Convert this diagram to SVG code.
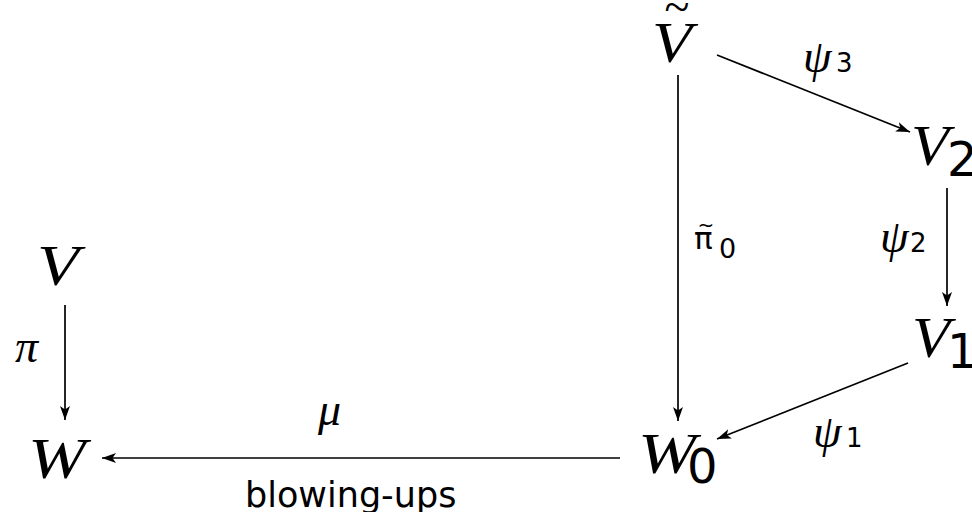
<svg xmlns="http://www.w3.org/2000/svg" width="972" height="512" viewBox="0 0 972 512">
<style>
.m{font-family:"Liberation Serif",serif;font-style:italic;font-size:58px;fill:#000}
.s{font-family:"DejaVu Sans",sans-serif;fill:#000}
.g{font-family:"Liberation Serif",serif;font-style:italic;font-size:46px;fill:#000}
.c{stroke:#000;stroke-width:1.7;fill:none;marker-end:url(#ah)}
</style>
<defs>
<marker id="ah" markerUnits="userSpaceOnUse" markerWidth="15" markerHeight="11" refX="14" refY="5.5" orient="auto">
<path d="M0,0.5 L14,5.5 L0,10.5 L3.5,5.5 Z" fill="#000"/>
</marker>
</defs>
<g id="connectors">
<line class="c" x1="717" y1="55" x2="910" y2="132"/>
<line class="c" x1="678" y1="75" x2="678" y2="421"/>
<line class="c" x1="947" y1="188" x2="947" y2="306"/>
<line class="c" x1="908" y1="363" x2="717" y2="439"/>
<line class="c" x1="65" y1="305" x2="65" y2="420"/>
<line class="c" x1="620" y1="458" x2="102" y2="458"/>
</g>
<g id="Vt"><text class="m" x="652" y="62" textLength="40" lengthAdjust="spacingAndGlyphs">V</text><text x="677" y="22" text-anchor="middle" style="font-family:'Liberation Serif',serif;font-size:46px">~</text></g>
<g id="V2"><text class="m" x="911" y="165" textLength="38" lengthAdjust="spacingAndGlyphs">V</text><text class="s" x="947" y="176" font-size="48">2</text></g>
<g id="V1"><text class="m" x="912" y="357" textLength="38" lengthAdjust="spacingAndGlyphs">V</text><text class="s" x="947" y="368" font-size="48">1</text></g>
<g id="W0"><text class="m" x="638" y="473" textLength="58" lengthAdjust="spacingAndGlyphs">W</text><text class="s" x="687" y="483" font-size="48">0</text></g>
<g id="V"><text class="m" x="37" y="285" textLength="42" lengthAdjust="spacingAndGlyphs">V</text></g>
<g id="W"><text class="m" x="28" y="478" textLength="58" lengthAdjust="spacingAndGlyphs">W</text></g>
<g id="labels">
<text class="g" x="803" y="72">ψ</text><text class="s" x="836" y="72" font-size="26">3</text>
<text class="s" x="694" y="249" font-size="31">π</text><text x="706" y="232" text-anchor="middle" style="font-family:'DejaVu Sans',sans-serif;font-size:20px">~</text><text class="s" x="719" y="258" font-size="27">0</text>
<text class="g" x="880" y="252">ψ</text><text class="s" x="910" y="252" font-size="26">2</text>
<text class="g" x="813" y="447">ψ</text><text class="s" x="846" y="447" font-size="26">1</text>
<text class="g" x="15" y="362" font-size="44">π</text>
<text class="g" x="318" y="425">μ</text>
<text class="s" x="245" y="507" font-size="35">blowing-ups</text>
</g>
</svg>
